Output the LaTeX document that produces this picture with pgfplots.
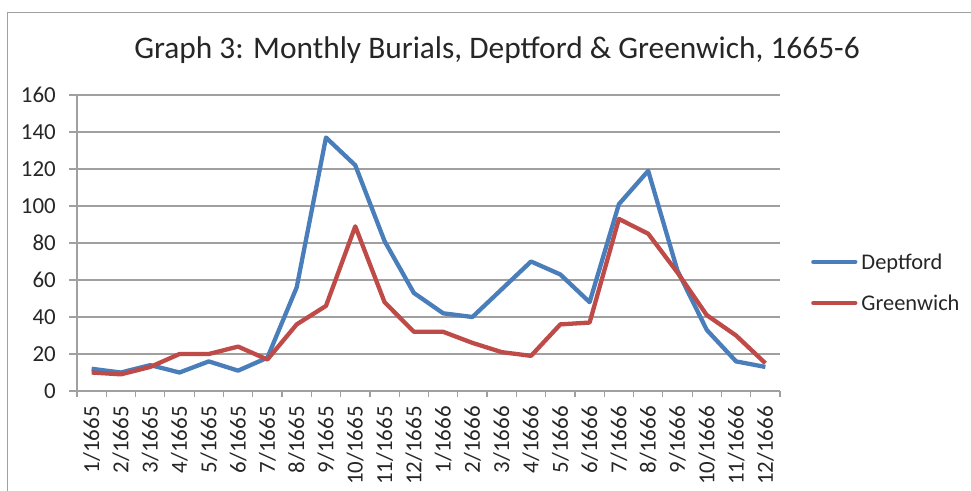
\documentclass[border=0pt]{standalone}
\usepackage{fontspec}
\setmainfont{Carlito}
\usepackage{pgfplots}
\usepackage{pgfplotstable}
\pgfplotsset{compat=1.18}
\definecolor{dblue}{HTML}{4A7EBB}
\definecolor{gred}{HTML}{BE4B48}
\definecolor{gridgray}{HTML}{A0A0A0}
\definecolor{txt}{HTML}{262626}

\pgfplotstableread{
idx deptford greenwich
0  12 10
1  10 9
2  14 13
3  10 20
4  16 20
5  11 24
6  18 17
7  56 36
8  137 46
9  122 89
10 81 48
11 53 32
12 42 32
13 40 26
14 55 21
15 70 19
16 63 36
17 48 37
18 101 93
19 119 85
20 65 64
21 33 41
22 16 30
23 13 15
}\burials

\begin{document}
\begin{tikzpicture}[x=1bp,y=1bp]
\useasboundingbox (0,0) rectangle (971,491);
\draw[gridgray, line width=1.2bp] (7.5,-10) -- (7.5,478.5) -- (990,478.5);
\node[txt, font=\fontsize{31.5}{38}\selectfont, anchor=base, inner sep=0pt] at (497,432) {Graph 3: Monthly Burials, Deptford \& Greenwich, 1665-6};
\begin{axis}[
  at={(77bp,100bp)}, anchor=south west,
  scale only axis, width=703bp, height=296bp,
  xmin=-0.5, xmax=23.5, ymin=0, ymax=160,
  ytick={0,20,...,160},
  xtick={0,...,23},
  xticklabels={1/1665,2/1665,3/1665,4/1665,5/1665,6/1665,7/1665,8/1665,9/1665,10/1665,11/1665,12/1665,1/1666,2/1666,3/1666,4/1666,5/1666,6/1666,7/1666,8/1666,9/1666,10/1666,11/1666,12/1666},
  minor xtick={-0.5,0.5,...,23.5},
  axis x line*=bottom, axis y line*=left,
  tick align=outside,
  major tick length=8bp, minor tick length=6bp,
  major x tick style={draw=none},
  minor tick style={gridgray, line width=1.2bp},
  major y tick style={gridgray, line width=1.2bp},
  axis line style={gridgray, line width=1.2bp},
  ymajorgrids, grid style={gridgray, line width=1.2bp},
  /pgf/number format/assume math mode=true,
  ticklabel style={txt, font=\fontsize{23}{27}\selectfont},
  xticklabel style={rotate=90, anchor=east, inner sep=0pt},
  xticklabel shift=7bp,
  yticklabel style={anchor=east, inner sep=0pt},
  yticklabel shift=13bp,
  legend style={draw=none, fill=none, at={(1.0398,0.3564)}, anchor=west,
    font=\fontsize{22.5}{27}\selectfont, text=txt,
    nodes={inner sep=0pt, text height=15bp, text depth=5bp},
    row sep=21bp,
    /tikz/every odd column/.append style={column sep=4bp}},
  legend cell align=left,
  legend image code/.code={\draw[#1, line cap=round] (0bp,0.3em) -- (42bp,0.3em);},
  every axis plot/.append style={line width=4.3bp, line join=round},
]
\addplot[dblue, mark=none] table[x=idx, y=deptford] {\burials};
\addlegendentry{Deptford}
\addplot[gred, mark=none] table[x=idx, y=greenwich] {\burials};
\addlegendentry{Greenwich}
\end{axis}
\end{tikzpicture}
\end{document}
